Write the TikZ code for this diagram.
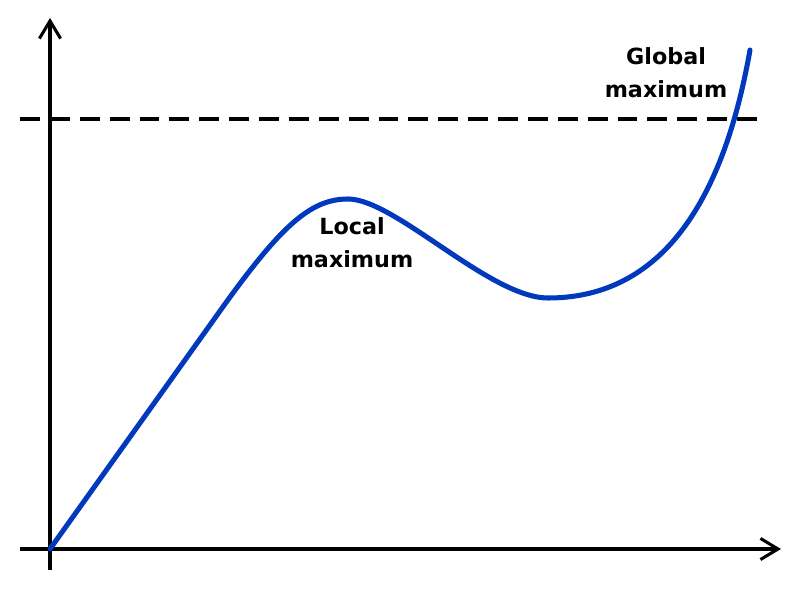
\documentclass[tikz,border=0pt]{standalone}
\usepackage{fontspec}
\setmainfont{DejaVu Sans}
\usepackage{xcolor}
\usetikzlibrary{arrows.meta, positioning}
\definecolor{curveblue}{RGB}{0,56,190}

\begin{document}
\begin{tikzpicture}[
        x=0.03cm, y=-0.03cm,
        axis/.style={line width=2.6pt, -{Straight Barb[length=15pt, width=18pt]}},
        level/.style={line width=3.4pt, dash pattern=on 17pt off 8.5pt},
        curve/.style={line width=4.3pt, curveblue, line cap=round},
        label/.style={font=\fontsize{19}{28}\selectfont\bfseries, align=center}
    ]
        \useasboundingbox (0,0) rectangle (800,600);
        \coordinate (O) at (50,549);
        \coordinate (Ybot) at (50,570);
        \coordinate (Ytop) at (50,18);
        \coordinate (Xleft) at (20,549);
        \coordinate (Xright) at (781,549);
        \coordinate (Lleft) at (20,119);
        \coordinate (Lright) at (762,119);
        \draw[axis] (Ybot) -- (Ytop);
        \draw[axis] (Xleft) -- (Xright);
        \draw[level] (Lleft) -- (Lright);
        \draw[curve] (O) -- (215,318)
            .. controls (280,226) and (310,199) .. (348,199)
            .. controls (395,199) and (490,298) .. (548,298)
            .. controls (650,298) and (720,220) .. (750,50);
        \node[label] (globalmax) at (666,73) {Global\\maximum};
        \node[label] (localmax) at (352,243) {Local\\maximum};
    \end{tikzpicture}
\end{document}
